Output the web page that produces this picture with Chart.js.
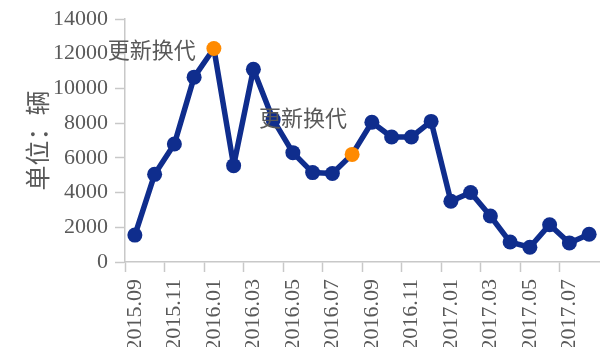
<!DOCTYPE html>
<html>
<head>
<meta charset="utf-8">
<script src="https://cdn.jsdelivr.net/npm/chart.js@4"></script>
<style>
  html, body { margin: 0; padding: 0; background: #ffffff; }
  #wrap { width: 602px; height: 347px; }
</style>
</head>
<body>
<div id="wrap"><canvas id="c" width="602" height="347"></canvas></div>
<script>
// Monthly volume, 2015.09 – 2017.08
const months = [
  '2015.09','2015.10','2015.11','2015.12',
  '2016.01','2016.02','2016.03','2016.04','2016.05','2016.06',
  '2016.07','2016.08','2016.09','2016.10','2016.11','2016.12',
  '2017.01','2017.02','2017.03','2017.04','2017.05','2017.06',
  '2017.07','2017.08'
];
const volumes = [
  1550, 5050, 6800, 10650,
  12300, 5550, 11100, 8200, 6300, 5150,
  5100, 6200, 8050, 7200, 7200, 8100,
  3500, 4000, 2650, 1150, 850, 2150,
  1100, 1600
];
// Months marked as model-change points
const highlightMonths = ['2016.01', '2016.08'];
const highlightText = '更新换代';
const yTicks = [0, 2000, 4000, 6000, 8000, 10000, 12000, 14000];
const yTitle = '单位：辆';

const BLUE = '#0f2d8d';
const ORANGE = '#ff8a00';
const GREY_TEXT = '#595959';
const GREY_AXIS = '#c8c8c8';

const pointColors = months.map(m => highlightMonths.includes(m) ? ORANGE : BLUE);

// Callout text next to each highlighted point
const calloutPlugin = {
  id: 'callouts',
  afterDatasetsDraw(chart) {
    const { ctx, scales } = chart;
    const offsets = [[-18, 1], [-5, -37]];
    ctx.save();
    ctx.font = '22px "Noto Sans CJK SC"';
    ctx.fillStyle = GREY_TEXT;
    ctx.textAlign = 'right';
    ctx.textBaseline = 'middle';
    highlightMonths.forEach((m, i) => {
      const idx = months.indexOf(m);
      const x = scales.x.getPixelForValue(idx);
      const y = scales.y.getPixelForValue(volumes[idx]);
      ctx.fillText(highlightText, x + offsets[i][0], y + offsets[i][1]);
    });
    ctx.restore();
  }
};

new Chart(document.getElementById('c'), {
  type: 'line',
  data: {
    labels: months,
    datasets: [{
      data: volumes,
      borderColor: BLUE,
      borderWidth: 5.5,
      borderJoinStyle: 'round',
      borderCapStyle: 'round',
      pointRadius: 7.5,
      pointHoverRadius: 7.5,
      pointBorderWidth: 0,
      pointBackgroundColor: pointColors,
      tension: 0
    }]
  },
  options: {
    responsive: false,
    animation: false,
    devicePixelRatio: 1,
    layout: { autoPadding: false, padding: { top: 19, right: 3, left: 0, bottom: 0 } },
    plugins: {
      legend: { display: false },
      tooltip: { enabled: false }
    },
    scales: {
      x: {
        type: 'category',
        offset: true,
        grid: {
          offset: true,
          drawOnChartArea: false,
          drawTicks: true,
          tickLength: 10,
          tickWidth: 1.5,
          tickColor: ctx => (ctx.index % 2 === 0 ? GREY_AXIS : 'rgba(0,0,0,0)')
        },
        border: { display: true, color: GREY_AXIS, width: 1.5 },
        ticks: {
          autoSkip: false,
          minRotation: 90,
          maxRotation: 90,
          padding: 7,
          color: GREY_TEXT,
          font: { family: '"Liberation Serif"', size: 22 },
          callback: (v, i) => (i % 2 === 0 ? months[i] : '')
        },
        afterFit: s => { s.height = 85; s.paddingLeft = 0; s.paddingRight = 0; }
      },
      y: {
        min: 0,
        max: 14000,
        afterBuildTicks: s => { s.ticks = yTicks.map(v => ({ value: v })); },
        grid: {
          drawOnChartArea: false,
          drawTicks: true,
          tickLength: 10,
          tickWidth: 1.5,
          tickColor: GREY_AXIS
        },
        border: { display: true, color: GREY_AXIS, width: 1.5 },
        ticks: {
          padding: 7,
          color: GREY_TEXT,
          font: { family: '"Liberation Serif"', size: 22 },
          callback: v => String(v)
        },
        title: {
          display: true,
          text: yTitle,
          color: GREY_TEXT,
          font: { family: '"Noto Sans CJK SC"', size: 25 },
          padding: { top: 22, bottom: 0 }
        },
        afterFit: s => { s.width = 125; s.paddingTop = 0; s.paddingBottom = 0; }
      }
    }
  },
  plugins: [calloutPlugin]
});
</script>
</body>
</html>
